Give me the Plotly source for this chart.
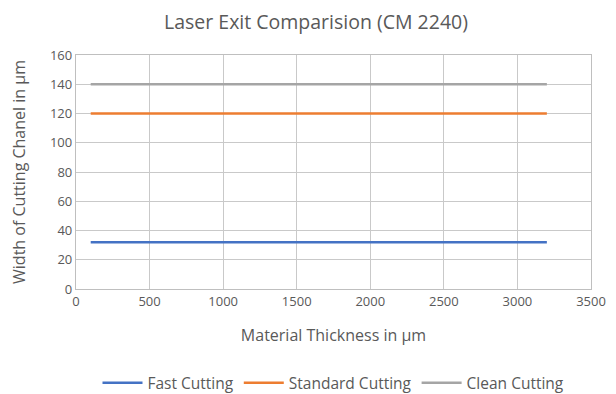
import plotly.graph_objects as go

thickness = [100, 3200]
fast_cutting = [32, 32]
standard_cutting = [120, 120]
clean_cutting = [140, 140]

series = [
    ("Fast Cutting", fast_cutting, "#4472C4"),
    ("Standard Cutting", standard_cutting, "#ED7D31"),
    ("Clean Cutting", clean_cutting, "#A5A5A5"),
]

fig = go.Figure()
for name, vals, col in series:
    fig.add_trace(go.Scatter(x=thickness, y=vals, mode="lines", name=name,
                             line=dict(color=col, width=2.5)))

font = "Open Sans, Liberation Sans, sans-serif"
fig.update_layout(
    width=616, height=394,
    paper_bgcolor="white", plot_bgcolor="white",
    margin=dict(l=68, r=33, t=47, b=113),
    title=dict(text="Laser Exit Comparision (CM 2240)", x=0.5, xanchor="center",
               y=0.965, yanchor="middle",
               font=dict(family=font, size=19.5, color="#595959")),
    font=dict(family=font, size=12, color="#595959"),
    showlegend=True,
    legend=dict(orientation="h", x=0.5, xanchor="center", yref="container", y=0.048, yanchor="middle",
                font=dict(size=15.5, color="#595959"), itemwidth=40, tracegroupgap=0),
    xaxis=dict(range=[0, 3500], dtick=500, showgrid=True, gridcolor="#C9C9C9", gridwidth=1.3,
               showline=True, linecolor="#BFBFBF", linewidth=1.3, mirror=True,
               ticks="", zeroline=False,
               title=dict(text="Material Thickness in µm", font=dict(size=16, color="#595959"), standoff=21),
               tickfont=dict(size=13, color="#595959")),
    yaxis=dict(range=[0, 160], dtick=20, showgrid=True, gridcolor="#C9C9C9", gridwidth=1.3,
               showline=True, linecolor="#BFBFBF", linewidth=1.3, mirror=True,
               ticks="", zeroline=False,
               title=dict(text="Width of Cutting Chanel in µm", font=dict(size=16, color="#595959"), standoff=20),
               tickfont=dict(size=13, color="#595959")),
)

fig.write_html("out.html")
